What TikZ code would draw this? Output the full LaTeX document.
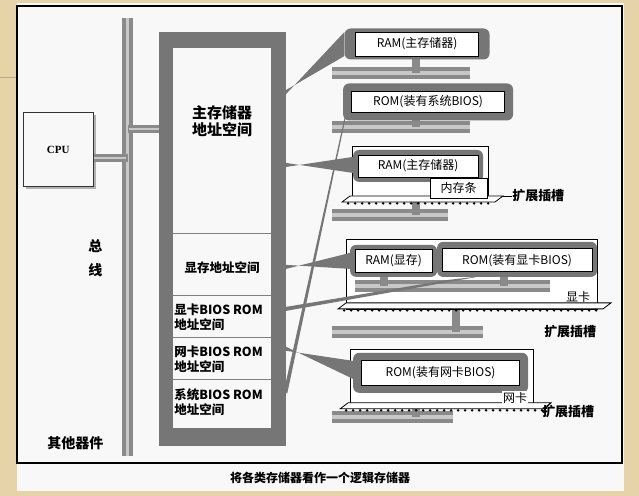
\documentclass[tikz,border=0pt]{standalone}
\usepackage{fontspec}
\setmainfont{Liberation Serif}
\newfontfamily\cjk{Noto Sans CJK SC}
\definecolor{tan}{HTML}{E6D3A8}
\definecolor{paper}{HTML}{F8F8F8}
\definecolor{halo}{HTML}{767676}
\definecolor{busg}{HTML}{8A8A8A}
\definecolor{busl}{HTML}{C8C8C8}
\tikzset{
  lbl/.style={draw=black,line width=0.8pt,fill=white,inner sep=1pt,font=\cjk\fontsize{12}{12}\selectfont},
  halobox/.style={draw=none,fill=halo,rounded corners=6pt,inner sep=0pt},
  card/.style={draw=black,line width=0.8pt,fill=white},
  txt/.style={font=\cjk\fontsize{12.5}{15}\selectfont\bfseries,inner sep=0pt},
  wedge/.style={fill=halo,draw=none},
}
\newcommand{\bars}[3]{% x1 x2 ycenter
  \fill[busg] (#1,#3-6) rectangle (#2,#3+6);
  \fill[busl] (#1,#3-2) rectangle (#2,#3+2);
}
\newcommand{\slotbar}[3]{% x1 x2 y
  \draw[black,line width=0.8pt,fill=white] (#1,#3+6) -- (#1+8,#3) -- (#2+8,#3) -- (#2,#3+6) -- cycle;
  \foreach \k in {0,...,40}{\pgfmathsetmacro{\xx}{#1+6+\k*7}\ifdim\xx pt<#2pt \fill[black] (\xx,#3+7.5) circle (1.4);\fi}
}
\begin{document}
\begin{tikzpicture}[x=1pt,y=-1pt]
\fill[tan] (0,0) rectangle (639,496);
\fill[paper] (17,3) rectangle (624,491);
\draw[tan!80!black,line width=0.6pt] (0,77) -- (17,77);
\draw[black,line width=1.6pt] (17,6) rectangle (622,463);
% bus
\fill[busg] (122,18) rectangle (133,456);
\fill[busl] (126,18) rectangle (129,456);
% CPU
\fill[gray!60] (26,115) rectangle (96,189);
\node[draw=black!80,line width=1pt,fill=paper,minimum width=70pt,minimum height=74pt,inner sep=0pt,font=\fontsize{11}{11}\selectfont\bfseries] (cpu) at (58,150) {CPU};
\fill[busg] (cpu.east|-0,154) rectangle (128,162);
\fill[busl] (cpu.east|-0,157) rectangle (126,159);
% memory block
\fill[halo] (159,32) rectangle (286,446);
\fill[paper] (173,48) rectangle (271,428);
\node (mem) at (222,240) [minimum width=127pt,minimum height=414pt,inner sep=0pt] {};
\fill[busg] (128,125) rectangle (159,133);
\fill[busl] (129,128) rectangle (159,130);
\draw[gray,line width=1pt] (173,234) -- (271,234);
\draw[gray,line width=1pt] (173,296) -- (271,296);
\draw[gray,line width=1pt] (173,338) -- (271,338);
\draw[gray,line width=1pt] (173,380) -- (271,380);
\node[txt,font=\cjk\fontsize{15}{17}\selectfont\bfseries,align=center] (m1) at (222,121) {主存储器\\地址空间};
\node[txt] (m2) at (222,268) {显存地址空间};
\node[txt,anchor=west,align=left] (m3) at (174,317) {显卡BIOS ROM\\地址空间};
\node[txt,anchor=west,align=left] (m4) at (174,359) {网卡BIOS ROM\\地址空间};
\node[txt,anchor=west,align=left] (m5) at (174,402) {系统BIOS ROM\\地址空间};
\node[txt,align=center,font=\cjk\fontsize{14}{24}\selectfont\bfseries] (zx) at (95,258) {总\\线};
\node[txt,font=\cjk\fontsize{14}{14}\selectfont\bfseries] (qt) at (75,443) {其他器件};
\node[txt,font=\cjk\fontsize{12}{12}\selectfont\bfseries] (cap) at (320,478) {将各类存储器看作一个逻辑存储器};
% right side bars
\bars{332}{470}{73}
\bars{332}{470}{127}
\bars{332}{448}{215}
\bars{332}{483}{332}
\bars{332}{453}{417}
% stems
\fill[busg] (412,57) rectangle (420,73);
\fill[busg] (412,115) rectangle (420,127);
\fill[busg] (412,177) rectangle (420,215);
\fill[busg] (452,290) rectangle (460,332);
\fill[busg] (412,388) rectangle (420,417);
% cards
\node[card,minimum width=136pt,minimum height=54pt,inner sep=0pt] (c1) at (420,173) {};
\slotbar{342}{495}{196}
\node[card,minimum width=251pt,minimum height=70pt,inner sep=0pt] (c2) at (471.5,275) {};
\slotbar{338}{603}{303}
\node[card,minimum width=183pt,minimum height=55pt,inner sep=0pt] (c3) at (441.5,377.5) {};
\slotbar{340}{543}{403}
\bars{355}{550}{286}
\fill[busg] (380,272) rectangle (388,286);
\fill[busg] (500,272) rectangle (508,286);
% halos
\node[halobox,minimum width=145pt,minimum height=31pt] (h1) at (417,44) {};
\node[halobox,minimum width=170pt,minimum height=37pt] (h2) at (428,102) {};
\node[halobox,minimum width=130pt,minimum height=32pt] (h3) at (418,166) {};
\node[halobox,minimum width=87pt,minimum height=32pt] (h4) at (393.5,261) {};
\node[halobox,minimum width=160pt,minimum height=35pt] (h5) at (517,259.5) {};
\node[halobox,minimum width=175pt,minimum height=40pt] (h6) at (440.5,373) {};
% wedges
\fill[wedge] (286,90) -- ([yshift=-12]h1.west) -- ([yshift=12]h1.west) -- (286,94) -- cycle;
\fill[wedge] (284,390) -- ([xshift=2,yshift=-14]h2.west) -- ([xshift=9,yshift=14]h2.west) -- (287,394) -- cycle;
\fill[wedge] (286,163) -- ([yshift=-7]h3.west) -- ([yshift=9]h3.west) -- (286,167) -- cycle;
\fill[wedge] (286,265) -- ([yshift=-8]h4.west) -- ([yshift=8]h4.west) -- (286,269) -- cycle;
\fill[wedge] (286,307) -- ([xshift=10,yshift=-3]h5.south west) -- ([xshift=45,yshift=1]h5.south west) -- (286,311) -- cycle;
\fill[wedge] (286,347) -- ([yshift=-6]h6.west) -- ([yshift=12]h6.west) -- (286,351) -- cycle;
% labels
\node[lbl,minimum width=123pt,minimum height=24pt] (r1) at (h1) {RAM(主存储器)};
\node[lbl,minimum width=153pt,minimum height=21pt] (r2) at (h2) {ROM(装有系统BIOS)};
\node[lbl,minimum width=120pt,minimum height=22pt] (r3) at (418,166) {RAM(主存储器)};
\node[lbl,minimum width=77pt,minimum height=23pt] (r4) at (h4) {RAM(显存)};
\node[lbl,minimum width=150pt,minimum height=23pt] (r5) at (517,260.5) {ROM(装有显卡BIOS)};
\node[lbl,minimum width=158pt,minimum height=25pt] (r6) at (h6) {ROM(装有网卡BIOS)};
\node[lbl,minimum width=57pt,minimum height=20pt] (nc) at (458.5,188) {内存条};
\node[txt,font=\cjk\fontsize{12}{12}\selectfont] (xk) at (578,297) {显卡};
\node[fill=white,inner sep=1pt,font=\cjk\fontsize{12}{12}\selectfont] (wk) at (515,398) {网卡};
\node[txt,anchor=west,font=\cjk\fontsize{13}{13}\selectfont\bfseries] (s1) at (512,196) {扩展插槽};
\node[txt,anchor=west,font=\cjk\fontsize{13}{13}\selectfont\bfseries] (s2) at (544,332) {扩展插槽};
\node[txt,anchor=west,font=\cjk\fontsize{13}{13}\selectfont\bfseries] (s3) at (542,412) {扩展插槽};
\draw[black,line width=0.8pt] (503,196) -- (s1.west);
\draw[black,line width=0.8pt] (551,403) -- (s3.west);
\end{tikzpicture}
\end{document}
